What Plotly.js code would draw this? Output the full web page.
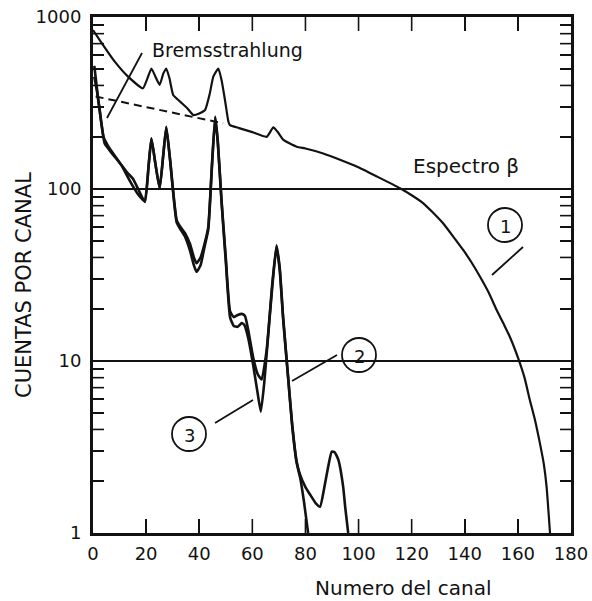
<!DOCTYPE html>
<html>
<head>
<meta charset="utf-8">
<script src="https://cdn.plot.ly/plotly-3.0.1.min.js"></script>
<style>
  html, body { margin: 0; padding: 0; background: #fff; }
  #chart { width: 592px; height: 601px; }
</style>
</head>
<body>
<div id="chart"></div>
<script>
// Channel numbers and counts per channel for each spectrum

// (1) Total spectrum: beta continuum with superimposed peaks
const canal1 = [0, 3.8, 8.2, 13.2, 18.8, 20.5, 22, 23.5, 25.1, 26.5, 27.6, 28.8, 30.2, 32.8, 35.5,
  37.8, 40, 42.2, 44, 45.3, 47.2, 48.4, 49.7, 51, 51.6, 55, 60, 65.4, 67.9, 69.5, 71.7, 76.7, 80,
  86.7, 93, 99.3, 107, 115.6, 120, 124.4, 128, 131.9, 136, 139.4, 142.5, 145.7, 149, 152, 155,
  157, 160.1, 162.5, 164.5, 166.5, 168.3, 169.8, 170.8, 172.1];
const cuentas1 = [840, 687, 550, 450, 385, 440, 502, 450, 403, 470, 502, 440, 352, 322, 295,
  269, 275, 288, 360, 450, 502, 430, 329, 246, 235, 226, 214, 201, 228, 215, 193, 176, 172,
  161, 148, 135, 118, 101, 92, 82.6, 73, 63, 52, 44.2, 37.5, 31, 25, 19.8, 16,
  13.8, 10.4, 8, 5.93, 4.5, 3.32, 2.5, 1.86, 1];

// Bremsstrahlung background under the low-energy peaks
const canalBrems = [1, 12, 24, 36, 49];
const cuentasBrems = [345, 318, 290, 266, 241];

// (2) Gamma spectrum
const canal2 = [0.5, 1.9, 3, 4.4, 6, 8, 10.7, 13, 15, 17, 19.6, 21, 22, 23.5, 25.1, 26.5, 27.6,
  29, 31.5, 33, 34.6, 36.5, 38, 39, 40.5, 42, 43.4, 44.8, 46, 47, 48.4, 50, 51.6, 53, 54.5, 56,
  57.2, 58.5, 60.3, 62, 63.5, 65.4, 67.5, 69.1, 70.3, 71.6, 73.5, 75, 76.7, 77.9, 80, 82, 84,
  85.5, 87, 88.5, 89.9, 91, 92.4, 94.2, 95, 96.1];
const cuentas2 = [520, 338, 250, 184, 170, 155, 138, 124, 115, 100, 84, 140, 197, 140, 101, 160, 230,
  150, 66, 60, 55.5, 48, 40, 37, 40, 48, 60, 140, 264, 190, 86, 40, 19.5, 18, 18.5, 18.8,
  18.3, 15, 10.5, 8.4, 7.8, 11.6, 28, 47, 35, 18, 8, 4.3, 2.6, 2.2, 1.85, 1.65, 1.48,
  1.42, 1.8, 2.4, 2.97, 2.95, 2.66, 1.86, 1.4, 1];

// (3) Gamma spectrum, second measurement
const canal3 = [0.5, 1.5, 2.5, 4, 5.5, 7, 9, 11, 13, 15, 17, 19.4, 21, 22, 23.5, 25.1, 26.5, 27.6,
  29, 31.5, 33, 34.6, 36.5, 38, 39, 40.5, 42, 43.4, 44.8, 46, 47, 48.4, 50, 51.6, 53, 54.5, 56,
  57, 58.5, 60.3, 62, 63.2, 64.5, 65.4, 67.5, 69.1, 70.3, 71.6, 73.5, 75, 76.7, 78, 79.5, 81];
const cuentas3 = [450, 370, 290, 200, 180, 166, 150, 135, 118, 104, 93, 85, 140, 195, 140, 101, 160, 228,
  148, 64, 58, 53, 44, 36, 33, 36, 46, 58, 135, 258, 185, 84, 38, 18, 16, 15.8, 16.6,
  16.2, 13.5, 9.5, 6.5, 5.07, 7.5, 11, 27, 46, 34, 17.5, 7.9, 4.2, 2.55, 2.1, 1.5, 1];

// Axis ticks
const xTicks = [0, 20, 40, 60, 80, 100, 120, 140, 160, 180];
const yTicks = [1, 10, 100, 1000];
const yMinorTicks = [2, 3, 4, 5, 6, 7, 8, 9, 20, 30, 40, 50, 60, 70, 80, 90,
  200, 300, 400, 500, 600, 700, 800, 900];

const X_RANGE = [0, 180];
const LOG_Y_RANGE = [0, 3];

const INK = '#121212';
const FONT = 'DejaVu Sans, Liberation Sans, sans-serif';

// Plot-area geometry (pixels) used to place the callouts and tick marks
const L = 93, R = 571, T = 17, B = 533;
const W = R - L, H = B - T;
const px2x = px => (px - L) / W;
const py2y = py => (B - py) / H;
const xFrac = v => (v - X_RANGE[0]) / (X_RANGE[1] - X_RANGE[0]);
const yFrac = v => (Math.log10(v) - LOG_Y_RANGE[0]) / (LOG_Y_RANGE[1] - LOG_Y_RANGE[0]);
const X_TICK_PX = 14, Y_TICK_PX = 11;

const SMOOTH = 0.45;
const traces = [
  { x: canal1, y: cuentas1, mode: 'lines', line: { color: INK, width: 2.2, shape: 'spline', smoothing: SMOOTH }, name: '1' },
  { x: canalBrems, y: cuentasBrems, mode: 'lines', line: { color: INK, width: 2, dash: '8px,5px' }, name: 'Bremsstrahlung' },
  { x: canal2, y: cuentas2, mode: 'lines', line: { color: INK, width: 2.6, shape: 'spline', smoothing: SMOOTH }, name: '2' },
  { x: canal3, y: cuentas3, mode: 'lines', line: { color: INK, width: 2.6, shape: 'spline', smoothing: SMOOTH }, name: '3' }
];

const shapes = [];
const annotations = [];

// Numbered circles with their pointer lines
const circles = [
  { label: '1', cx: 505, cy: 225, r: 17, from: [523, 247], to: [492, 275] },
  { label: '2', cx: 359, cy: 355, r: 17, from: [337, 355], to: [292, 381] },
  { label: '3', cx: 189, cy: 434, r: 17, from: [215, 423], to: [253, 400] }
];

circles.forEach(c => {
  shapes.push({
    type: 'circle', xref: 'paper', yref: 'paper',
    xsizemode: 'pixel', ysizemode: 'pixel',
    xanchor: px2x(c.cx), yanchor: py2y(c.cy),
    x0: -c.r, x1: c.r, y0: -c.r, y1: c.r,
    line: { color: INK, width: 1.8 }
  });
  shapes.push({
    type: 'line', xref: 'paper', yref: 'paper',
    x0: px2x(c.from[0]), y0: py2y(c.from[1]), x1: px2x(c.to[0]), y1: py2y(c.to[1]),
    line: { color: INK, width: 1.8 }
  });
  annotations.push({
    text: c.label, xref: 'paper', yref: 'paper',
    x: px2x(c.cx), y: py2y(c.cy + 1), xanchor: 'center', yanchor: 'middle',
    showarrow: false, font: { family: FONT, size: 18, color: INK }
  });
});

// Pointer from the Bremsstrahlung label to the dashed background
shapes.push({
  type: 'line', xref: 'paper', yref: 'paper',
  x0: px2x(142), y0: py2y(53), x1: px2x(107), y1: py2y(118),
  line: { color: INK, width: 1.8 }
});

annotations.push(
  { text: 'Bremsstrahlung', xref: 'paper', yref: 'paper', x: px2x(227), y: py2y(50),
    xanchor: 'center', yanchor: 'middle', showarrow: false,
    font: { family: FONT, size: 19, color: INK } },
  { text: 'Espectro β', xref: 'paper', yref: 'paper', x: px2x(466), y: py2y(166),
    xanchor: 'center', yanchor: 'middle', showarrow: false,
    font: { family: FONT, size: 20, color: INK } },
  { text: 'Numero del canal', xref: 'paper', yref: 'paper', x: px2x(403), y: py2y(588),
    xanchor: 'center', yanchor: 'middle', showarrow: false,
    font: { family: FONT, size: 20, color: INK } },
  { text: 'CUENTAS POR CANAL', xref: 'paper', yref: 'paper', x: px2x(24), y: py2y(285),
    xanchor: 'center', yanchor: 'middle', showarrow: false, textangle: -90,
    font: { family: FONT, size: 21, color: INK } }
);

const layout = {
  width: 592, height: 601,
  margin: { l: L, r: 592 - R, t: T, b: 601 - B, pad: 0 },
  paper_bgcolor: '#fff', plot_bgcolor: '#fff',
  showlegend: false,
  xaxis: {
    range: X_RANGE, tickmode: 'array', tickvals: xTicks,
    ticks: 'inside', ticklen: X_TICK_PX, tickwidth: 1.6, tickcolor: INK,
    showline: true, linewidth: 3, linecolor: INK, mirror: 'ticks',
    showgrid: false, zeroline: false,
    ticklabelstandoff: 2,
    tickfont: { family: FONT, size: 18, color: INK }
  },
  yaxis: {
    type: 'log', range: LOG_Y_RANGE, tickmode: 'array', tickvals: yTicks,
    ticktext: yTicks.map(String),
    ticks: 'inside', ticklen: Y_TICK_PX, tickwidth: 1.6, tickcolor: INK,
    minor: { tickmode: 'array', tickvals: yMinorTicks, ticks: 'inside', ticklen: Y_TICK_PX,
             tickwidth: 1.6, tickcolor: INK, showgrid: false },
    showline: true, linewidth: 3, linecolor: INK, mirror: 'ticks',
    showgrid: true, gridcolor: INK, gridwidth: 1.2, zeroline: false,
    ticklabelstandoff: 5,
    tickfont: { family: FONT, size: 18, color: INK }
  },
  shapes: shapes,
  annotations: annotations
};

// Inward tick marks on all four sides of the frame, added to the plot's SVG
function drawFrameTicks(gd) {
  const svg = gd.querySelector('svg.main-svg');
  if (!svg) return;
  const NS = 'http://www.w3.org/2000/svg';
  const g = document.createElementNS(NS, 'g');
  g.setAttribute('class', 'frame-ticks');
  const add = (x1, y1, x2, y2) => {
    const ln = document.createElementNS(NS, 'line');
    ln.setAttribute('x1', x1); ln.setAttribute('y1', y1);
    ln.setAttribute('x2', x2); ln.setAttribute('y2', y2);
    ln.setAttribute('stroke', INK);
    ln.setAttribute('stroke-width', '1.6');
    g.appendChild(ln);
  };
  xTicks.slice(1, -1).forEach(v => {
    const x = L + xFrac(v) * W;
    add(x, B, x, B - X_TICK_PX);
    add(x, T, x, T + X_TICK_PX);
  });
  yMinorTicks.forEach(v => {
    const y = B - yFrac(v) * H;
    add(L, y, L + Y_TICK_PX, y);
    add(R, y, R - Y_TICK_PX, y);
  });
  svg.appendChild(g);
}

const gd = document.getElementById('chart');
Plotly.newPlot(gd, traces, layout, { displayModeBar: false, staticPlot: true })
  .then(drawFrameTicks);
</script>
</body>
</html>
